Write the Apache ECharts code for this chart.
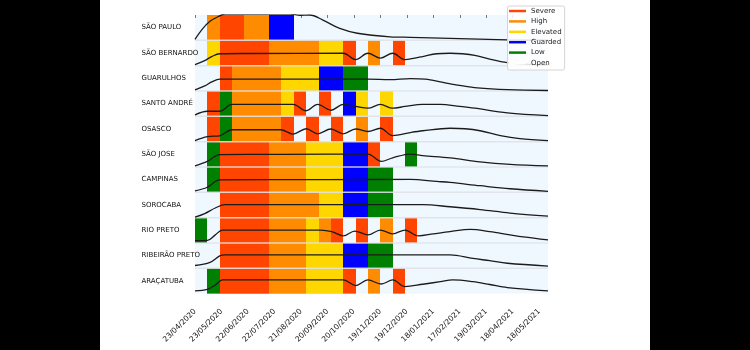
<!DOCTYPE html>
<html>
<head>
<meta charset="utf-8">
<script src="https://cdn.jsdelivr.net/npm/echarts@6/dist/echarts.min.js"></script>
<style>
html,body{margin:0;padding:0;background:#000;}
#paper{position:absolute;left:100px;top:0;width:550px;height:350px;background:#fff;}
#c{position:absolute;left:0;top:0;width:750px;height:350px;}
</style>
</head>
<body>
<div id="paper"></div>
<div id="c"></div>
<script>
// ---------------- data ----------------
const cities = ['SÃO PAULO','SÃO BERNARDO','GUARULHOS','SANTO ANDRÉ','OSASCO','SÃO JOSE','CAMPINAS','SOROCABA','RIO PRETO','RIBEIRÃO PRETO','ARAÇATUBA'];
const levelNames = ['Severe','High','Elevated','Guarded','Low','Open'];
const levelCodes = ['S','H','E','G','L','O'];
const levelColors = ['#FF4500','#FF8C00','#FFD700','#0000FF','#008000','#FFFFFF'];
// start day (days after 23/04/2020) of each 14-day period
const periodStarts = [0,14,28,42,56,70,84,98,112,126,140,154,168,182,196,210,224,238];
const periodLength = 14;
// level of each city in each period ('.' = no colour)
const cityLevels = [
  '.HSSHHGG..........',
  '.ESSSSHHHHEES.H.S.',
  '..SHHHHEEEGGLL....',
  '.SLHHHHES.S.GE.E..',
  '.SLHHHHS.S.S.H.S..',
  '.LSSSSHHHEEEGGS..L',
  '.LSSSSHHHEEEGGLL..',
  '..SSSSHHHHEEGGLL..',
  'L.SSSSHHHEHS.S.H.S',
  '..SSSSHHHEEEGGLL..',
  '.LSSSSHHHEEES.H.S.'
];
// curves: [day, height as fraction of the row]
const curveSaoPaulo = [[0,0.04],[9,0.47],[17,0.75],[26,0.93],[34,1.04],[108,1.04],[119,0.99],[130,1.0],[145,0.8],[164,0.47],[184,0.28],[221,0.14],[244,0.12],[289,0.08],[354,0.02],[400,0.01]];
const curveSaoBernardo = [[0,0.04],[11,0.2],[19,0.36],[28,0.47],[60,0.48],[168,0.49],[182,0.24],[196,0.49],[210,0.3],[224,0.49],[238,0.24],[249,0.3],[258,0.36],[274,0.47],[289,0.49],[303,0.47],[317,0.41],[334,0.26],[354,0.12],[374,0.06],[400,0.03]];
const curveGuarulhos = [[0,0.04],[11,0.2],[19,0.36],[28,0.47],[196,0.47],[221,0.45],[244,0.49],[261,0.47],[281,0.34],[300,0.22],[320,0.12],[354,0.05],[400,0.02]];
const curveSantoAndre = [[0,0.06],[14,0.2],[28,0.2],[42,0.47],[111,0.47],[126,0.22],[139,0.47],[154,0.24],[168,0.47],[182,0.39],[196,0.32],[210,0.47],[224,0.32],[238,0.39],[258,0.47],[278,0.47],[300,0.39],[317,0.32],[354,0.14],[400,0.03]];
const curveOsasco = [[0,0.04],[14,0.2],[28,0.23],[42,0.47],[97,0.47],[111,0.3],[126,0.51],[139,0.31],[154,0.5],[168,0.31],[182,0.5],[196,0.4],[210,0.53],[224,0.24],[244,0.36],[258,0.43],[289,0.53],[306,0.51],[323,0.43],[346,0.24],[368,0.12],[400,0.04]];
const curveSaoJose = [[0,0.04],[14,0.22],[28,0.49],[100,0.5],[196,0.51],[211,0.22],[224,0.36],[244,0.51],[258,0.45],[289,0.36],[323,0.2],[357,0.1],[400,0.04]];
const curveCampinas = [[0,0.06],[14,0.2],[28,0.49],[150,0.5],[244,0.51],[274,0.43],[289,0.39],[323,0.26],[357,0.14],[400,0.04]];
const curveSorocaba = [[0,0.02],[11,0.16],[23,0.38],[34,0.51],[150,0.51],[258,0.51],[289,0.43],[323,0.32],[357,0.18],[400,0.06]];
const curveRioPreto = [[0,0.09],[14,0.1],[23,0.32],[31,0.51],[100,0.51],[142,0.51],[155,0.45],[168,0.28],[181,0.47],[196,0.32],[210,0.51],[224,0.36],[238,0.51],[253,0.28],[270,0.36],[289,0.45],[312,0.54],[334,0.45],[357,0.32],[372,0.24],[400,0.12]];
const curveRibeiraoPreto = [[0,0.11],[17,0.23],[28,0.49],[34,0.53],[150,0.53],[289,0.53],[315,0.39],[334,0.3],[354,0.2],[400,0.09]];
const curveAracatuba = [[0,0.11],[14,0.17],[23,0.34],[31,0.54],[100,0.54],[168,0.54],[182,0.32],[196,0.54],[211,0.38],[224,0.54],[238,0.28],[258,0.37],[278,0.47],[292,0.54],[315,0.47],[334,0.36],[354,0.24],[400,0.11]];
const curves = [curveSaoPaulo,curveSaoBernardo,curveGuarulhos,curveSantoAndre,curveOsasco,curveSaoJose,curveCampinas,curveSorocaba,curveRioPreto,curveRibeiraoPreto,curveAracatuba];
const tickDays = [0,30,60,90,120,150,180,210,240,270,300,330,360,390];
const tickLabels = ['23/04/2020','23/05/2020','22/06/2020','22/07/2020','21/08/2020','20/09/2020','20/10/2020','19/11/2020','19/12/2020','18/01/2021','17/02/2021','19/03/2021','18/04/2021','18/05/2021'];
const dayMax = 400;

// ---------------- build ----------------
const barData = [];
cityLevels.forEach((codes, row) => {
  const arr = codes.split('');
  let p = 0;
  while (p < arr.length) {
    const c = arr[p];
    let q = p;
    while (q + 1 < arr.length && arr[q + 1] === c) q++;
    const li = levelCodes.indexOf(c);
    if (li >= 0) {
      barData.push({value:[periodStarts[p], periodStarts[q] + periodLength, row], itemStyle:{color: levelColors[li]}});
    }
    p = q + 1;
  }
});
const sepData = [];
for (let i = 1; i < cities.length; i++) sepData.push([0, i]);

const FONT = 'DejaVu Sans';
const series = [];
series.push({
  type:'custom', xAxisIndex:0, yAxisIndex:0, z:2,
  encode:{x:[0,1], y:2},
  data: barData,
  renderItem(params, api){
    const p0 = api.coord([api.value(0), api.value(2)]);
    const p1 = api.coord([api.value(1), api.value(2) + 1]);
    const x0 = Math.round(p0[0]), x1 = Math.round(p1[0]);
    return {type:'rect', shape:{x:x0, y:p0[1], width:x1-x0, height:p1[1]-p0[1]}, style:{fill: api.visual('color')}};
  }
});
series.push({
  type:'custom', xAxisIndex:0, yAxisIndex:0, z:3, silent:true,
  encode:{x:0, y:1},
  data: sepData,
  renderItem(params, api){
    const y = api.coord([0, api.value(1)])[1];
    const x0 = api.coord([0, 0])[0], x1 = api.coord([dayMax, 0])[0];
    return {type:'line', shape:{x1:x0, y1:y, x2:x1, y2:y}, style:{stroke:'rgba(222,226,232,0.85)', lineWidth:1.5}};
  }
});
curves.forEach((cv, row) => {
  series.push({
    type:'line', xAxisIndex:0, yAxisIndex:0, z:4, silent:true,
    showSymbol:false, symbol:'none', smooth:0.35,
    lineStyle:{color:'#1b1b1b', width:1.3},
    data: cv.map(d => [d[0], row + 1 - d[1]])
  });
});
levelNames.forEach((n, i) => {
  series.push({type:'line', name:n, data:[], color: levelColors[i], itemStyle:{color:levelColors[i]}, lineStyle:{color:levelColors[i]}});
});

const option = {
  animation:false,
  textStyle:{fontFamily:FONT},
  grid:[
    {left:195, right:202, top:15, bottom:43.7, show:false},
    {left:195, right:202, top:15, height:278.6, show:true, backgroundColor:'#F0F8FF', borderWidth:0}
  ],
  xAxis:[
    {type:'value', gridIndex:0, min:0, max:dayMax, interval:30,
     axisLine:{show:false}, splitLine:{show:false},
     axisTick:{show:true, length:3, lineStyle:{color:'#777'}, customValues: tickDays},
     axisLabel:{customValues: tickDays, rotate:45, fontSize:7.5, color:'#111', margin:4, fontFamily:FONT,
       formatter: v => { const i = tickDays.indexOf(Math.round(v)); return i < 0 ? '' : tickLabels[i]; }}},
    {type:'value', gridIndex:1, min:0, max:dayMax, show:false}
  ],
  yAxis:[
    {type:'value', gridIndex:0, min:0, max:11.5, inverse:true, show:false},
    {type:'category', gridIndex:1, data:cities, inverse:true,
     axisLine:{show:false}, axisTick:{show:false}, splitLine:{show:false},
     axisLabel:{align:'left', margin:53.5, fontSize:7, color:'#111', fontFamily:FONT, padding:[0,0,7,0]}}
  ],
  legend:{
    orient:'vertical', left:507.5, top:6, z:10,
    data: levelNames, icon:'rect', itemWidth:17, itemHeight:2.5, itemGap:2.4,
    padding:[1,3,3,1.5],
    textStyle:{fontSize:7, color:'#222', lineHeight:8, fontFamily:FONT},
    borderColor:'#d4d4d4', borderWidth:1, borderRadius:2,
    backgroundColor:'rgba(255,255,255,0.85)'
  },
  series
};
const chart = echarts.init(document.getElementById('c'), null, {renderer:'canvas'});
chart.setOption(option);
</script>
</body>
</html>
